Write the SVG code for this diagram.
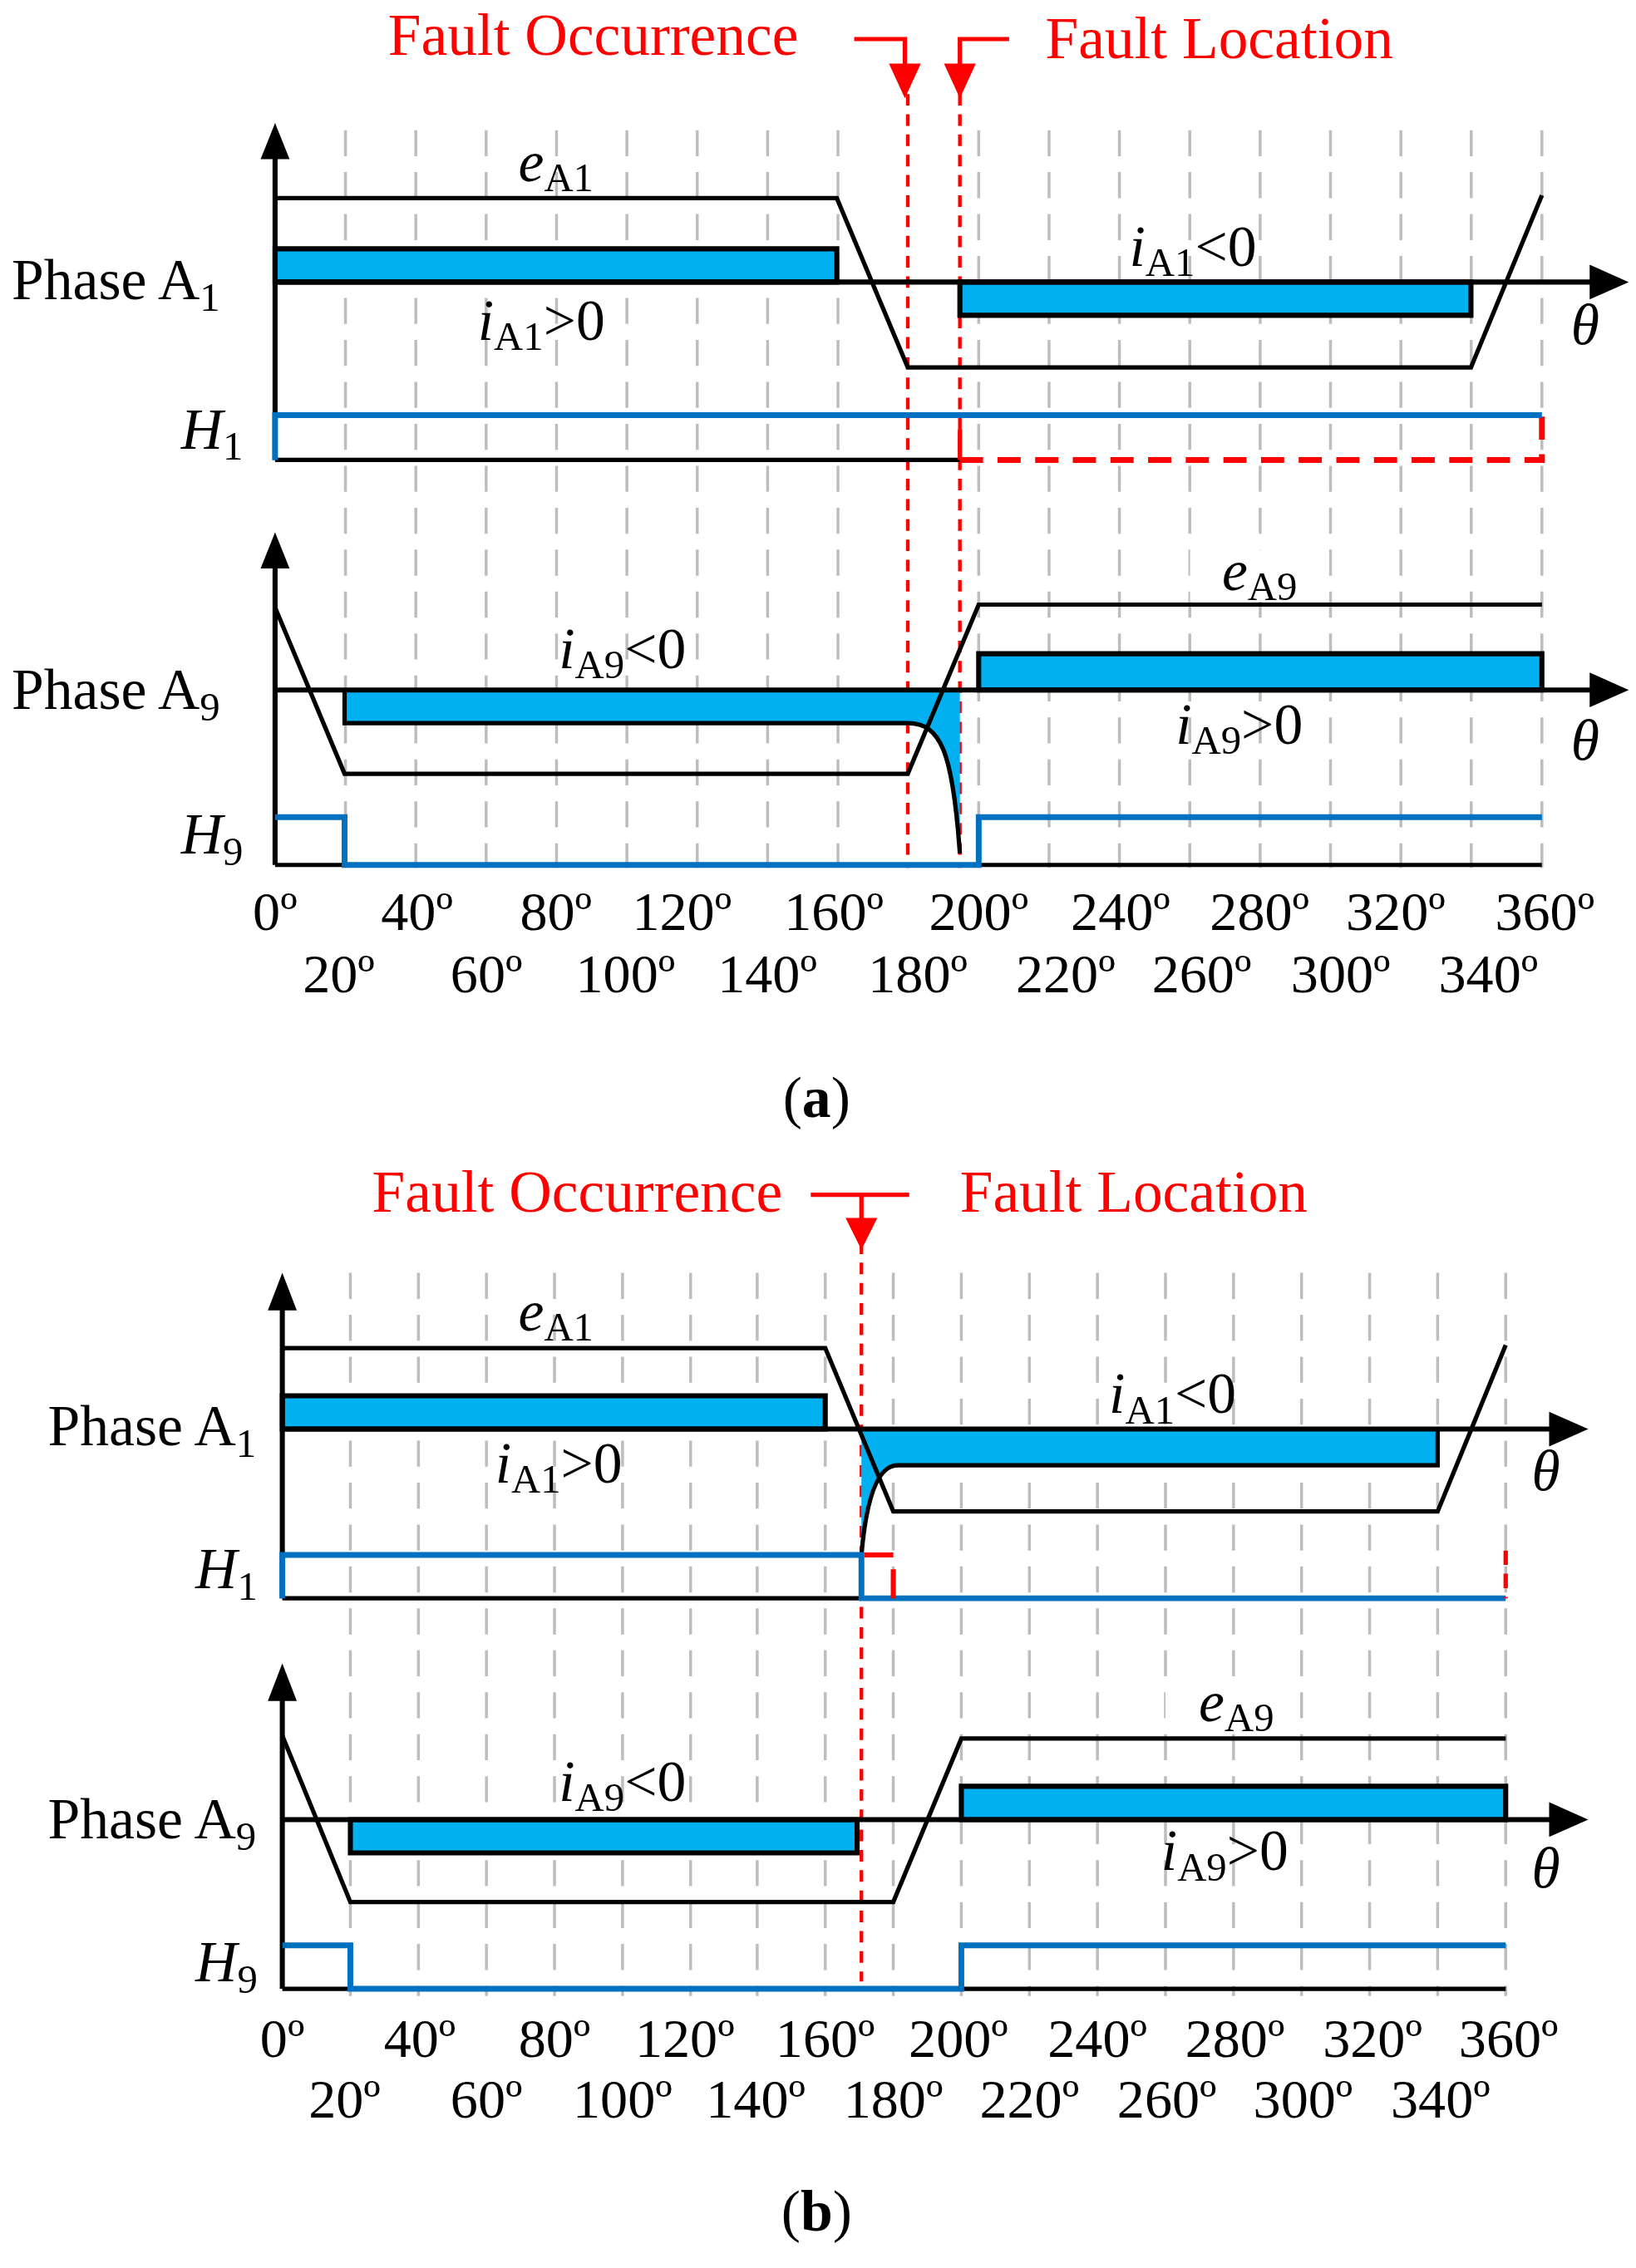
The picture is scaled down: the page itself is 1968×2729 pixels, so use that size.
<svg xmlns="http://www.w3.org/2000/svg" width="1968" height="2729" viewBox="0 0 1968 2729">
<defs>
<style>
.g{stroke:#bdbdbd;stroke-width:2;stroke-dasharray:18 11;fill:none}
.k{stroke:#000;stroke-width:3;fill:none}
.ax{stroke:#000;stroke-width:3.5;fill:none}
.bl{stroke:#0070c0;stroke-width:4;fill:none}
.rd{stroke:#ff0000;stroke-width:2.5;stroke-dasharray:8 6;fill:none}
.rd2{stroke:#ff0000;stroke-width:4;stroke-dasharray:16 10;fill:none}
.fill{fill:#00b0f0;stroke:#000;stroke-width:3.5}
text{font-family:"Liberation Serif","Times New Roman",serif;font-size:40px;fill:#000}
.t{text-anchor:middle;font-size:38px}
.r{fill:#ff0000;font-size:41px}
.i{font-style:italic}
.s{font-size:28px}
</style>
</defs>
<g transform="scale(1.7416,1.7404)">
<g id="grid-a">
<path class="g" d="M238.6,90V600M287.2,90V600M335.8,90V600M384.4,90V600M433,90V600M481.6,90V600M530.2,90V600M578.8,90V600M676,90V600M724.6,90V600M773.2,90V600M821.8,90V600M870.4,90V600M919,90V600M967.6,90V600M1016.2,90V600M1065,90V600"/>
</g>
<g id="connectors-a">
<path class="rd" d="M627,65V600M663,65V600"/>
<path d="M590,27H625V45M697,27H663V45" stroke="#ff0000" stroke-width="3" fill="none"/>
<path d="M614,44H636L625,68z M652,44H674L663,68z" fill="#ff0000"/>
</g>
<g id="phaseA1-a">
<path class="fill" d="M190,172H578V195H190z"/>
<path class="fill" d="M663,195H1016V218H663z"/>
<path class="ax" d="M190,318V108"/>
<path d="M180,110L190,85L200,110z"/>
<path class="ax" d="M190,195H1100"/>
<path d="M1098,183L1125,195L1098,207z"/>
<path class="k" d="M190,137H578L627,254H1016L1065,135"/>
<path class="k" d="M190,318H663"/>
<path class="rd2" d="M663,318H1065V287"/>
<path stroke="#ff0000" stroke-width="3" d="M663,297V318"/>
<path class="bl" d="M190,318V287H1065"/>
</g>
<g id="phaseA9-a">
<path class="fill" d="M676,477V452H1065V477z"/>
<path d="M238,477H663V590C658,520 650,500 627,500H238z" fill="#00b0f0"/>
<path class="k" stroke-width="3.5" d="M238,477V500H627C650,500 658,520 663,590"/>
<path class="ax" d="M190,598V392"/>
<path d="M180,393L190,368L200,393z"/>
<path class="ax" d="M190,477H1100"/>
<path d="M1098,465L1125,477L1098,489z"/>
<path class="k" d="M190,420L238,535H627L676,418H1065"/>
<rect x="822" y="380" width="96" height="36" fill="#fff"/>
<path class="k" d="M190,598H1065"/>
<path class="bl" d="M190,565H238V598H676V565H1065"/>
</g>
<g id="labels-a">
<text class="r" x="268" y="38">Fault Occurrence</text>
<text class="r" x="722" y="40">Fault Location</text>
<text x="8" y="207">Phase A<tspan class="s" dy="8">1</tspan></text>
<text x="8" y="490">Phase A<tspan class="s" dy="8">9</tspan></text>
<text class="i" x="125" y="310">H<tspan class="s" dy="8" font-style="normal">1</tspan></text>
<text class="i" x="125" y="590">H<tspan class="s" dy="8" font-style="normal">9</tspan></text>
<text x="358" y="125"><tspan class="i">e</tspan><tspan class="s" dy="7">A1</tspan></text>
<text x="330" y="235"><tspan class="i">i</tspan><tspan class="s" dy="7">A1</tspan><tspan dy="-7">&gt;0</tspan></text>
<text x="780" y="184"><tspan class="i">i</tspan><tspan class="s" dy="7">A1</tspan><tspan dy="-7">&lt;0</tspan></text>
<text x="844" y="408"><tspan class="i">e</tspan><tspan class="s" dy="7">A9</tspan></text>
<text x="386" y="462"><tspan class="i">i</tspan><tspan class="s" dy="7">A9</tspan><tspan dy="-7">&lt;0</tspan></text>
<text x="812" y="514"><tspan class="i">i</tspan><tspan class="s" dy="7">A9</tspan><tspan dy="-7">&gt;0</tspan></text>
<text class="i" x="1085" y="238">θ</text>
<text class="i" x="1085" y="525">θ</text>
<text class="t" x="190" y="643">0º</text><text class="t" x="288" y="643">40º</text><text class="t" x="384" y="643">80º</text><text class="t" x="471" y="643">120º</text><text class="t" x="576" y="643">160º</text><text class="t" x="676" y="643">200º</text><text class="t" x="774" y="643">240º</text><text class="t" x="870" y="643">280º</text><text class="t" x="964" y="643">320º</text><text class="t" x="1067" y="643">360º</text>
<text class="t" x="234" y="686">20º</text><text class="t" x="336" y="686">60º</text><text class="t" x="432" y="686">100º</text><text class="t" x="530" y="686">140º</text><text class="t" x="634" y="686">180º</text><text class="t" x="736" y="686">220º</text><text class="t" x="830" y="686">260º</text><text class="t" x="926" y="686">300º</text><text class="t" x="1028" y="686">340º</text>
<text x="564" y="772" text-anchor="middle" font-size="40">(<tspan font-weight="bold">a</tspan>)</text>
</g>

<g id="grid-b">
<path class="g" d="M242,880V1380M289,880V1380M336,880V1380M383,880V1380M430,880V1380M477,880V1380M523,880V1380M570,880V1380M617,880V1380M664,880V1380M711,880V1380M758,880V1380M805,880V1380M852,880V1380M899,880V1380M946,880V1380M993,880V1380M1040,880V1380"/>
</g>
<g id="connectors-b">
<path class="rd" d="M595,845V1370"/>
<path d="M560,826H628M595,826V843" stroke="#ff0000" stroke-width="3" fill="none"/>
<path d="M584,842H606L595,864z" fill="#ff0000"/>
</g>
<g id="phaseA1-b">
<path class="fill" d="M195,965H570V988H195z"/>
<path d="M595,988H993V1013H620C605,1013 598,1040 595,1075z" fill="#00b0f0"/>
<path class="k" stroke-width="3.5" d="M993,988V1013H620C605,1013 598,1040 595,1075"/>
<path class="ax" d="M195,1105V905"/>
<path d="M185,906L195,880L205,906z"/>
<path class="ax" d="M195,988H1072"/>
<path d="M1070,976L1097,988L1070,1000z"/>
<path class="k" d="M195,932H570L617,1045H993L1040,930"/>
<path class="k" d="M195,1105H595"/>
<path class="bl" d="M195,1105V1075H595V1105H1040"/>
<path stroke="#ff0000" stroke-width="3.5" fill="none" d="M597,1075H617M617,1085V1105"/>
<path stroke="#ff0000" stroke-width="3" stroke-dasharray="10 6" fill="none" d="M1040,1072V1105"/>
</g>
<g id="phaseA9-b">
<path class="fill" d="M242,1258H592V1281H242z"/>
<path class="fill" d="M664,1258V1235H1040V1258z"/>
<path class="ax" d="M195,1375V1175"/>
<path d="M185,1176L195,1150L205,1176z"/>
<path class="ax" d="M195,1258H1072"/>
<path d="M1070,1246L1097,1258L1070,1270z"/>
<path class="k" d="M195,1200L242,1315H617L664,1202H1040"/>
<rect x="805" y="1165" width="92" height="34" fill="#fff"/>
<path class="k" d="M195,1375H1040"/>
<path class="bl" d="M195,1345H242V1375H664V1345H1040"/>
</g>
<g id="labels-b">
<text class="r" x="257" y="838">Fault Occurrence</text>
<text class="r" x="663" y="838">Fault Location</text>
<text x="33" y="999">Phase A<tspan class="s" dy="8">1</tspan></text>
<text x="33" y="1271">Phase A<tspan class="s" dy="8">9</tspan></text>
<text class="i" x="135" y="1098">H<tspan class="s" dy="8" font-style="normal">1</tspan></text>
<text class="i" x="135" y="1370">H<tspan class="s" dy="8" font-style="normal">9</tspan></text>
<text x="358" y="920"><tspan class="i">e</tspan><tspan class="s" dy="7">A1</tspan></text>
<text x="342" y="1025"><tspan class="i">i</tspan><tspan class="s" dy="7">A1</tspan><tspan dy="-7">&gt;0</tspan></text>
<text x="766" y="977"><tspan class="i">i</tspan><tspan class="s" dy="7">A1</tspan><tspan dy="-7">&lt;0</tspan></text>
<text x="828" y="1190"><tspan class="i">e</tspan><tspan class="s" dy="7">A9</tspan></text>
<text x="386" y="1245"><tspan class="i">i</tspan><tspan class="s" dy="7">A9</tspan><tspan dy="-7">&lt;0</tspan></text>
<text x="802" y="1293"><tspan class="i">i</tspan><tspan class="s" dy="7">A9</tspan><tspan dy="-7">&gt;0</tspan></text>
<text class="i" x="1058" y="1030">θ</text>
<text class="i" x="1058" y="1305">θ</text>
<text class="t" x="195" y="1422">0º</text><text class="t" x="290" y="1422">40º</text><text class="t" x="383" y="1422">80º</text><text class="t" x="473" y="1422">120º</text><text class="t" x="570" y="1422">160º</text><text class="t" x="662" y="1422">200º</text><text class="t" x="758" y="1422">240º</text><text class="t" x="853" y="1422">280º</text><text class="t" x="948" y="1422">320º</text><text class="t" x="1042" y="1422">360º</text>
<text class="t" x="238" y="1464">20º</text><text class="t" x="336" y="1464">60º</text><text class="t" x="430" y="1464">100º</text><text class="t" x="522" y="1464">140º</text><text class="t" x="617" y="1464">180º</text><text class="t" x="711" y="1464">220º</text><text class="t" x="806" y="1464">260º</text><text class="t" x="900" y="1464">300º</text><text class="t" x="995" y="1464">340º</text>
<text x="564" y="1542" text-anchor="middle" font-size="40">(<tspan font-weight="bold">b</tspan>)</text>
</g>
</g>
</svg>
